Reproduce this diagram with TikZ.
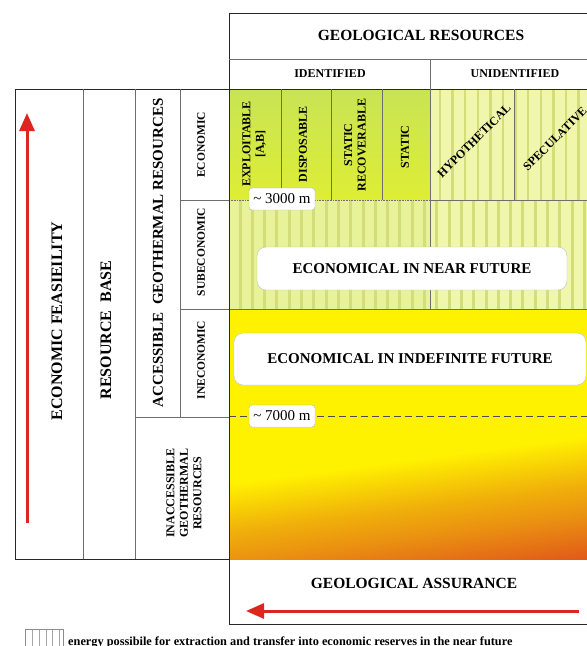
\documentclass[tikz,border=0pt]{standalone}
\usepackage{fontspec}
\setmainfont{Liberation Serif}
\usetikzlibrary{arrows.meta}

\definecolor{limetop}{RGB}{200,228,84}
\definecolor{limebot}{RGB}{222,238,52}
\definecolor{paleleft}{RGB}{232,242,152}
\definecolor{paleright}{RGB}{240,247,172}
\definecolor{stripecol}{RGB}{212,222,120}
\definecolor{yel}{RGB}{255,242,0}
\definecolor{orgyel}{RGB}{240,175,10}
\definecolor{orgmid}{RGB}{234,145,17}
\definecolor{org}{RGB}{225,90,25}
\definecolor{arrowred}{RGB}{222,38,32}
\definecolor{framecol}{RGB}{40,40,40}
\definecolor{gridcol}{RGB}{110,110,110}

% yellow to orange, measured upwards from the bottom of a 400pt box
\pgfdeclareverticalshading{deepzone}{800pt}{%
  color(0pt)=(org); color(78pt)=(org); color(122pt)=(orgmid);
  color(151pt)=(orgyel); color(200pt)=(yel); color(400pt)=(yel)}

\begin{document}
\begin{tikzpicture}[%
  x=1pt, y=-1pt,
  frameline/.style={draw=framecol, line width=1pt},
  gridline/.style={draw=gridcol, line width=0.6pt},
  bigtext/.style={font=\fontsize{15.5}{17}\selectfont\bfseries},
  sidetext/.style={font=\fontsize{16}{18}\selectfont\bfseries, rotate=90},
  midtext/.style={font=\fontsize{12}{13.5}\selectfont\bfseries, align=center},
  smalltext/.style={font=\fontsize{11.5}{13}\selectfont\bfseries, rotate=90},
  tagbox/.style={%
    rectangle,
    rounded corners=3pt,
    fill=white,
    draw=black!30,
    minimum width=66pt,
    minimum height=22pt,
    inner sep=0pt,
    font=\fontsize{15}{17}\selectfont,
  },
  zonebox/.style={%
    rectangle,
    rounded corners=9pt,
    fill=white,
    draw=black!25,
    inner sep=0pt,
    font=\fontsize{15}{17}\selectfont\bfseries,
  },
  redarrow/.style={%
    draw=arrowred,
    line width=3pt,
    -{Triangle[length=18pt,width=15pt]},
  },
]
  \useasboundingbox (0,0) rectangle (587,646);

  % colour fields
  \shade[top color=limetop, bottom color=limebot] (229,89) rectangle (430,200);
  \fill[paleright] (430,89) rectangle (620,309);
  \fill[paleleft] (229,200) rectangle (430,309);
  \foreach \x in {240,252.3,...,620}
    \fill[stripecol] (\x-1.5,200) rectangle (\x+1.5,309);
  \foreach \x in {440,452.6,...,620}
    \fill[stripecol] (\x-1.2,89) rectangle (\x+1.2,200);

  % deep zone: yellow turning orange along a slightly tilted axis
  \begin{scope}
    \clip (229,309) rectangle (600,559);
    \node[inner sep=0pt, outer sep=0pt, rotate=7.5] (deep) at (229,483)
      {\pgfuseshading{deepzone}};
  \end{scope}

  % grid of the right part
  \draw[frameline] (229,89) -- (229,13) -- (620,13);
  \draw[gridline] (229,59) -- (620,59);
  \draw[frameline] (15,89) -- (620,89);
  \draw[gridline] (430,59) -- (430,309);
  \foreach \x in {281,331,382,514}
    \draw[gridline] (\x,89) -- (\x,200);
  \draw[gridline, densely dotted] (229,200) -- (430,200);
  \draw[gridline] (430,200) -- (620,200);
  \draw[gridline] (229,309) -- (620,309);
  \draw[gridline, draw=black!70, dash pattern=on 7pt off 4pt] (229,416.5) -- (620,416.5);

  % left table
  \draw[frameline] (15,89) rectangle (229,559);
  \draw[gridline] (83,89) -- (83,559) (135,89) -- (135,559) (180,89) -- (180,417);
  \draw[gridline] (180,200) -- (229,200) (180,309) -- (229,309) (135,417) -- (229,417);

  % bottom box
  \draw[frameline] (229,559) -- (229,624) -- (620,624);

  % headings
  \node[bigtext] (geores) at (421,35) {GEOLOGICAL RESOURCES};
  \node[midtext] (ident) at (330,74) {IDENTIFIED};
  \node[midtext] (unident) at (515,74) {UNIDENTIFIED};
  \node[bigtext] (assur) at (414,583) {GEOLOGICAL ASSURANCE};

  % categories
  \node[midtext, rotate=90] (exploit) at (254,144) {EXPLOITABLE\\{[A,B]}};
  \node[midtext, rotate=90] (dispos) at (303,144) {DISPOSABLE};
  \node[midtext, rotate=90] (statrec) at (355,145) {STATIC\\RECOVERABLE};
  \node[midtext, rotate=90] (static) at (405,147) {STATIC};
  \node[midtext, rotate=45] (hypo) at (474,141) {HYPOTHETICAL};
  \node[midtext, rotate=45] (spec) at (555,139) {SPECULATIVE};

  % left columns
  \node[sidetext] (feas) at (57,321) {ECONOMIC FEASIEILITY};
  \node[sidetext] (base) at (106,330) {RESOURCE\ \ BASE};
  \node[sidetext, font=\fontsize{15}{17}\selectfont\bfseries] (access) at (158,253)
    {ACCESSIBLE\ \ GEOTHERMAL RESOURCES};
  \node[smalltext] (econ) at (201,145) {ECONOMIC};
  \node[smalltext] (subecon) at (201,252) {SUBECONOMIC};
  \node[smalltext] (inecon) at (201,360) {INECONOMIC};
  \node[midtext, rotate=90] (inacc) at (184,493) {INACCESSIBLE\\GEOTHERMAL\\RESOURCES};

  % zones and depths
  \node[zonebox, minimum width=310pt, minimum height=43pt] (near) at (412,268.5)
    {ECONOMICAL IN NEAR FUTURE};
  \node[zonebox, minimum width=352pt, minimum height=52pt] (indef) at (410,359)
    {ECONOMICAL IN INDEFINITE FUTURE};
  \node[tagbox] (d3000) at (282,199) {\textasciitilde\ 3000 m};
  \node[tagbox] (d7000) at (282,416) {\textasciitilde\ 7000 m};

  % arrows
  \coordinate (feasbot) at (27,523);
  \coordinate (feastop) at (27,113);
  \draw[redarrow] (feasbot) -- (feastop);
  \coordinate (assurright) at (579,611);
  \coordinate (assurleft) at (246,611);
  \draw[redarrow] (assurright) -- (assurleft);

  % legend
  \draw[gridline, draw=black!45] (25,629.5) rectangle (63,660);
  \foreach \x in {32,39,46,52.7,59.3}
    \draw[draw=black!35, line width=0.5pt] (\x,629.5) -- (\x,660);
  \node[anchor=base west, inner sep=0pt, font=\fontsize{12.3}{14}\selectfont\bfseries]
    (legtext) at (68,645.7)
    {energy possibile for extraction and transfer into economic reserves in the near future};
\end{tikzpicture}
\end{document}
